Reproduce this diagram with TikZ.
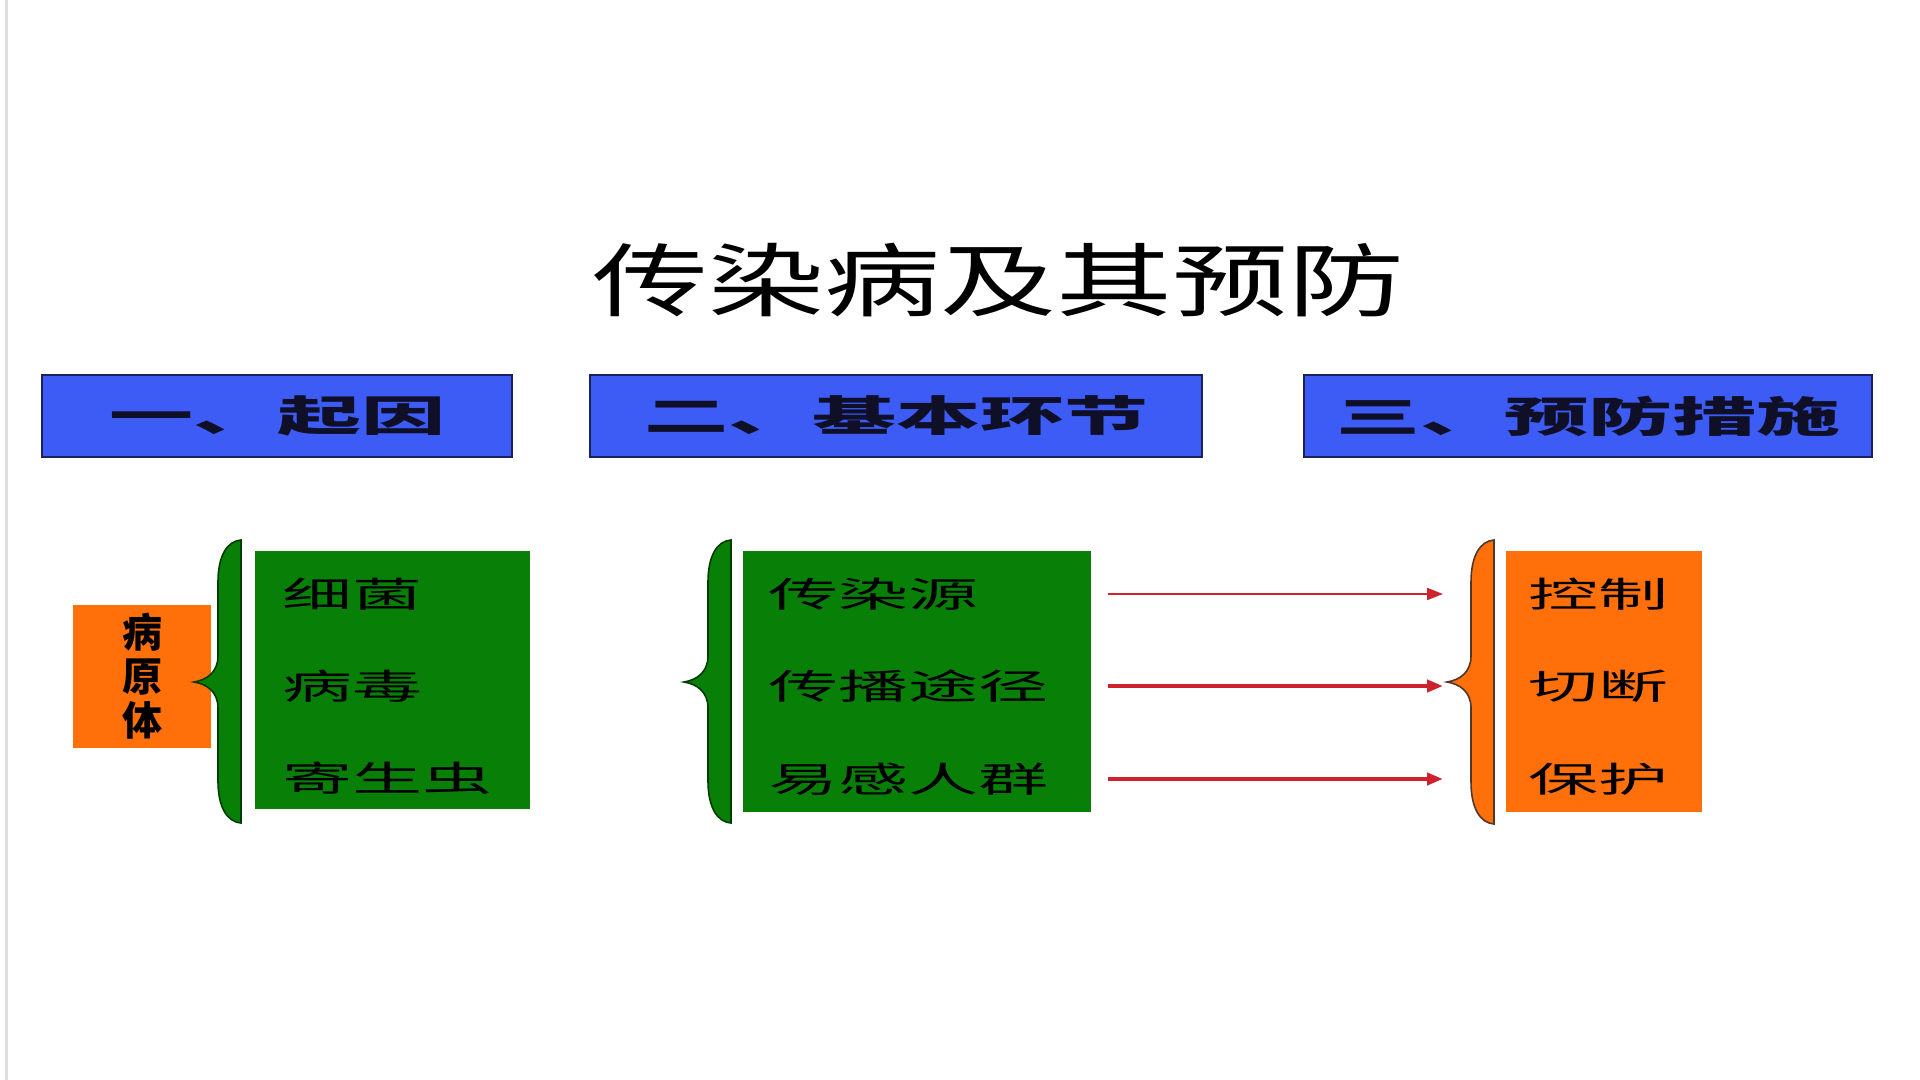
\documentclass[tikz,border=0pt]{standalone}
\usepackage{fontspec}
\newfontfamily\cjk{Noto Sans CJK SC}
\usetikzlibrary{arrows.meta}
\definecolor{hblue}{RGB}{60,92,245}
\definecolor{hborder}{RGB}{25,35,90}
\definecolor{bgreen}{RGB}{8,128,8}
\definecolor{dgreen}{RGB}{0,60,0}
\definecolor{borange}{RGB}{255,112,10}
\definecolor{dorange}{RGB}{80,55,40}
\definecolor{ared}{RGB}{205,35,45}
\definecolor{txtdark}{RGB}{15,15,40}
\newcommand\hstretch[3]{\scalebox{#1}[1]{\fontsize{#2pt}{#2pt}\selectfont #3}}
% #1 style, #2 R, #3 T, #4 B, #5 M
\newcommand\drawbrace[5]{%
  \draw[#1] (#2,#3) -- (#2,#4)
    .. controls ({#2-14},{#4-1}) and ({#2-23},{#4-16}) .. ({#2-23},{#4-42})
    -- ({#2-23},{#5+26})
    .. controls ({#2-23},{#5+10}) and ({#2-34},{#5+2}) .. ({#2-47},#5)
    .. controls ({#2-34},{#5-2}) and ({#2-23},{#5-10}) .. ({#2-23},{#5-26})
    -- ({#2-23},{#3+42})
    .. controls ({#2-23},{#3+16}) and ({#2-14},{#3+1}) .. (#2,#3) -- cycle;}
\tikzset{
  headbox/.style={draw=hborder, line width=1pt, fill=hblue, minimum height=41pt,
    inner sep=0pt, text=txtdark, font=\cjk\bfseries},
  greenbox/.style={fill=bgreen, minimum height=129pt, inner sep=0pt},
  orangebox/.style={fill=borange, inner sep=0pt},
  bodytxt/.style={anchor=west, inner sep=0pt, text=black, font=\cjk},
  gbrace/.style={fill=bgreen, draw=dgreen, line width=0.8pt},
  obrace/.style={fill=borange, draw=dorange, line width=0.8pt},
  arr/.style={draw=ared, -{Triangle[length=8pt,width=6pt]}},
}
\begin{document}
\begin{tikzpicture}[x=0.5pt, y=-0.5pt]
\useasboundingbox (0,0) rectangle (1920,1080);
\fill[white] (0,0) rectangle (1920,1080);
\draw[gray!25, line width=1.5pt] (6.5,0) -- (6.5,1080);

% title
\node[inner sep=0pt, font=\cjk] (title) at (998,280) {\hstretch{1.45}{40}{传染病及其预防}};

% header boxes
\node[headbox, minimum width=235pt] (h1) at (277,416) {\hstretch{2}{21}{一、起因}};
\node[headbox, minimum width=306pt] (h2) at (896,416) {\hstretch{2}{21}{二、基本环节}};
\node[headbox, minimum width=284pt] (h3) at (1588,416) {\hstretch{2}{21}{三、预防措施}};

% section 1
\node[orangebox, minimum width=69pt, minimum height=71.5pt, align=center,
      font=\cjk\bfseries\fontsize{20pt}{22pt}\selectfont] (pyt) at (142,676) {病\\原\\体};
\node[greenbox, minimum width=137.5pt] (g1) at (392.5,680) {};
\drawbrace{gbrace}{241}{540}{823}{682}
\node[bodytxt] (t11) at (282,594) {\hstretch{2}{17.5}{细菌}};
\node[bodytxt] (t12) at (282,686) {\hstretch{2}{17.5}{病毒}};
\node[bodytxt] (t13) at (282,778) {\hstretch{2}{17.5}{寄生虫}};

% section 2
\node[greenbox, minimum width=174pt, minimum height=130.5pt] (g2) at (917,681.5) {};
\drawbrace{gbrace}{731}{540}{823}{682}
\node[bodytxt] (t21) at (768,594) {\hstretch{2}{17.5}{传染源}};
\node[bodytxt] (t22) at (768,686) {\hstretch{2}{17.5}{传播途径}};
\node[bodytxt] (t23) at (768,779) {\hstretch{2}{17.5}{易感人群}};

% section 3
\node[orangebox, minimum width=98pt, minimum height=130.5pt] (o2) at (1604,681.5) {};
\drawbrace{obrace}{1494}{540}{824}{682}
\node[bodytxt] (t31) at (1528,594) {\hstretch{2}{17.5}{控制}};
\node[bodytxt] (t32) at (1528,686) {\hstretch{2}{17.5}{切断}};
\node[bodytxt] (t33) at (1528,779) {\hstretch{2}{17.5}{保护}};

% arrows
\coordinate (a1s) at (1108,594);
\coordinate (a1e) at (1443,594);
\coordinate (a2s) at (1108,686);
\coordinate (a2e) at (1443,686);
\coordinate (a3s) at (1108,779);
\coordinate (a3e) at (1443,779);
\draw[arr, line width=1pt] (a1s) -- (a1e);
\draw[arr, line width=2pt] (a2s) -- (a2e);
\draw[arr, line width=2pt] (a3s) -- (a3e);
\end{tikzpicture}
\end{document}
